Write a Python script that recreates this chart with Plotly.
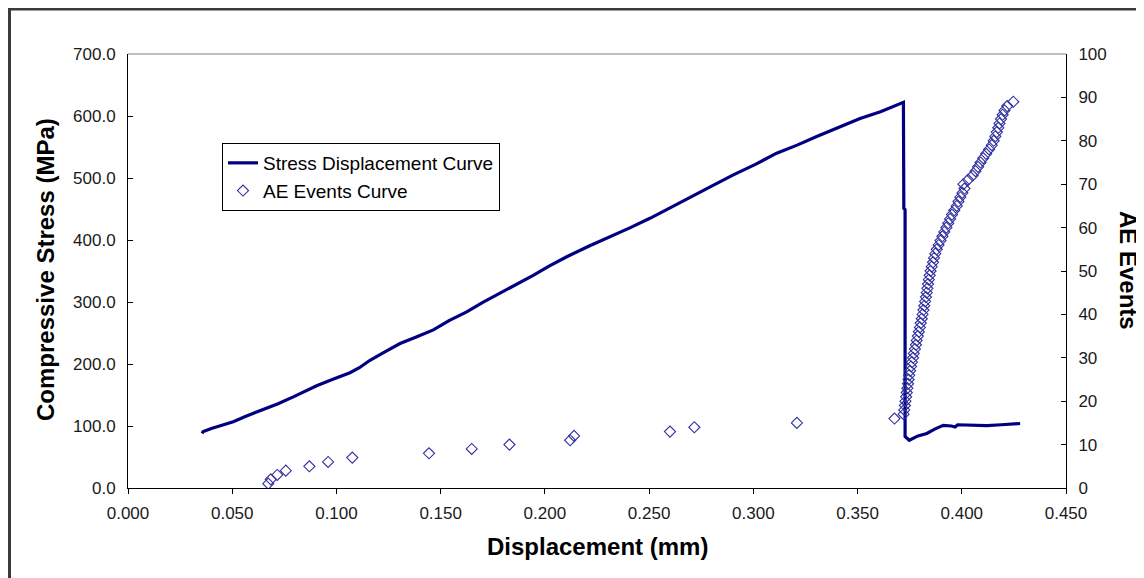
import plotly.graph_objects as go

# ---- Stress-displacement curve (displacement mm, stress MPa) ----
stress_x = [0.0355, 0.0361, 0.0400, 0.0450, 0.0505, 0.0560, 0.0649, 0.0720, 0.0793, 0.0850,
            0.0905, 0.0980, 0.1065, 0.1110, 0.1161, 0.1230, 0.1305, 0.1380, 0.1465, 0.1540,
            0.1625, 0.1700, 0.1785, 0.1860, 0.1944, 0.2020, 0.2105, 0.2210, 0.2312, 0.2410,
            0.2504, 0.2600, 0.2696, 0.2800, 0.2904, 0.3010, 0.3112, 0.3210, 0.3304, 0.3410,
            0.3512, 0.3610, 0.3712, 0.3720, 0.3722, 0.3728, 0.3728, 0.3748, 0.3790, 0.3832,
            0.3870, 0.3911, 0.3950, 0.3968, 0.3980, 0.4050, 0.4120, 0.4190, 0.4264, 0.4280]
stress_y = [88, 91, 96, 101, 107, 115, 126, 136, 147, 156,
            165, 175, 186, 194, 206, 219, 233, 243, 255, 270,
            284, 299, 314, 328, 343, 358, 373, 390, 405, 420,
            435, 452, 470, 487, 505, 522, 540, 553, 567, 582,
            596, 607, 620, 622, 451, 449, 83, 77, 84, 88,
            95, 101, 100, 98.5, 102, 101, 100.5, 102, 103, 104]

# ---- AE events (displacement mm, cumulative events) ----
ae_x = [0.0673, 0.0685, 0.0716, 0.0757, 0.0870, 0.0960, 0.1076, 0.1444, 0.1649, 0.1830,
        0.2121, 0.2140, 0.2600, 0.2717, 0.3209, 0.3677,
        0.3721, 0.3724, 0.3727, 0.3730, 0.3733, 0.3736, 0.3739, 0.3742, 0.3745, 0.3748,
        0.3752, 0.3757, 0.3761, 0.3766, 0.3770, 0.3775, 0.3780, 0.3784, 0.3789, 0.3794,
        0.3799, 0.3803, 0.3808, 0.3812, 0.3816, 0.3820, 0.3824, 0.3828, 0.3832, 0.3835,
        0.3838, 0.3842, 0.3846, 0.3850, 0.3856, 0.3862, 0.3867, 0.3873, 0.3880, 0.3889,
        0.3898, 0.3907, 0.3916, 0.3926, 0.3935, 0.3944, 0.3953, 0.3964, 0.3976, 0.3984,
        0.3993, 0.4003, 0.4013, 0.4008, 0.4030, 0.4052, 0.4066, 0.4078, 0.4090, 0.4103,
        0.4117, 0.4131, 0.4144, 0.4153, 0.4161, 0.4168, 0.4175, 0.4181, 0.4188, 0.4196,
        0.4205, 0.4218, 0.4247]
ae_y = [1, 2, 3, 4, 5, 6, 7, 8, 9, 10,
        11, 12, 13, 14, 15, 16,
        17, 18, 19, 20, 21, 22, 23, 24, 25, 26,
        27, 28, 29, 30, 31, 32, 33, 34, 35, 36,
        37, 38, 39, 40, 41, 42, 43, 44, 45, 46,
        47, 48, 49, 50, 51, 52, 53, 54, 55, 56,
        57, 58, 59, 60, 61, 62, 63, 64, 65, 66,
        67, 68, 69, 70, 71, 72, 73, 74, 75, 76,
        77, 78, 79, 80, 81, 82, 83, 84, 85, 86,
        87, 88, 89]

x_ticks = [0.0, 0.05, 0.10, 0.15, 0.20, 0.25, 0.30, 0.35, 0.40, 0.45]
y_left_ticks = [0, 100, 200, 300, 400, 500, 600, 700]
y_right_ticks = [0, 10, 20, 30, 40, 50, 60, 70, 80, 90, 100]

FONT = "Arial, Liberation Sans, sans-serif"
TICK_FONT = dict(family=FONT, size=17, color="#1a1a1a")

fig = go.Figure()
fig.add_trace(go.Scatter(
    x=stress_x, y=stress_y, mode="lines", name="Stress Displacement Curve",
    line=dict(color="#000080", width=3.2), yaxis="y"))
fig.add_trace(go.Scatter(
    x=ae_x, y=ae_y, mode="markers", name="AE Events Curve",
    marker=dict(symbol="diamond-open", size=8.5, color="#2f2f9f", line=dict(width=1.1)),
    yaxis="y2"))

# page body has an 8px margin: work in screen pixels, convert to figure pixels
OFF = 8
W, H = 1144 - OFF, 578 - OFF
L, R, T, B = 128 - OFF, 1066 - OFF, 54 - OFF, 488 - OFF
pw, ph = R - L, B - T

def px(xs):
    return (xs - OFF - L) / pw

def py(ys):
    return (B - (ys - OFF)) / ph

fig.update_layout(
    width=W, height=H,
    margin=dict(l=L, r=W - R, t=T, b=H - B),
    paper_bgcolor="white", plot_bgcolor="white",
    showlegend=True,
    legend=dict(x=px(222), y=py(143), xanchor="left", yanchor="top",
                bgcolor="white", bordercolor="black", borderwidth=1,
                font=dict(family=FONT, size=19, color="black"),
                tracegroupgap=0, itemwidth=30),
    xaxis=dict(range=[0, 0.45], tickvals=x_ticks, tickformat=".3f",
               showgrid=False, zeroline=False, showline=True, linecolor="black", linewidth=1,
               ticks="outside", ticklen=5, tickcolor="black", tickfont=TICK_FONT,
               ticklabelstandoff=5),
    yaxis=dict(range=[0, 700], tickvals=y_left_ticks, tickformat=".1f",
               showgrid=False, zeroline=False, showline=True, linecolor="black", linewidth=1,
               ticks="inside", ticklen=5, tickcolor="black", tickfont=TICK_FONT,
               ticklabelstandoff=8),
    yaxis2=dict(range=[0, 100], tickvals=y_right_ticks, overlaying="y", side="right",
                showgrid=False, zeroline=False, showline=True, linecolor="black", linewidth=1,
                ticks="inside", ticklen=5, tickcolor="black", tickfont=TICK_FONT,
                ticklabelstandoff=8),
    shapes=[
        dict(type="line", xref="paper", yref="paper", x0=0, x1=1, y0=1, y1=1,
             line=dict(color="#808080", width=1)),
        dict(type="rect", xref="paper", yref="paper", x0=px(9.5), x1=px(1300), y0=py(700), y1=py(9),
             line=dict(color="#3a3a3a", width=3), fillcolor="rgba(0,0,0,0)", layer="below"),
    ],
    annotations=[
        dict(text="<b>Displacement (mm)</b>", xref="paper", yref="paper", x=0.5, y=py(546),
             xanchor="center", yanchor="middle", showarrow=False,
             font=dict(family=FONT, size=24, color="black")),
        dict(text="<b>Compressive Stress (MPa)</b>", xref="paper", yref="paper", x=px(45), y=py(270),
             xanchor="center", yanchor="middle", textangle=-90, showarrow=False,
             font=dict(family=FONT, size=24, color="black")),
        dict(text="<b>AE Events</b>", xref="paper", yref="paper", x=px(1129), y=py(270),
             xanchor="center", yanchor="middle", textangle=90, showarrow=False,
             font=dict(family=FONT, size=24, color="black")),
    ],
)

fig.write_html("out.html")
